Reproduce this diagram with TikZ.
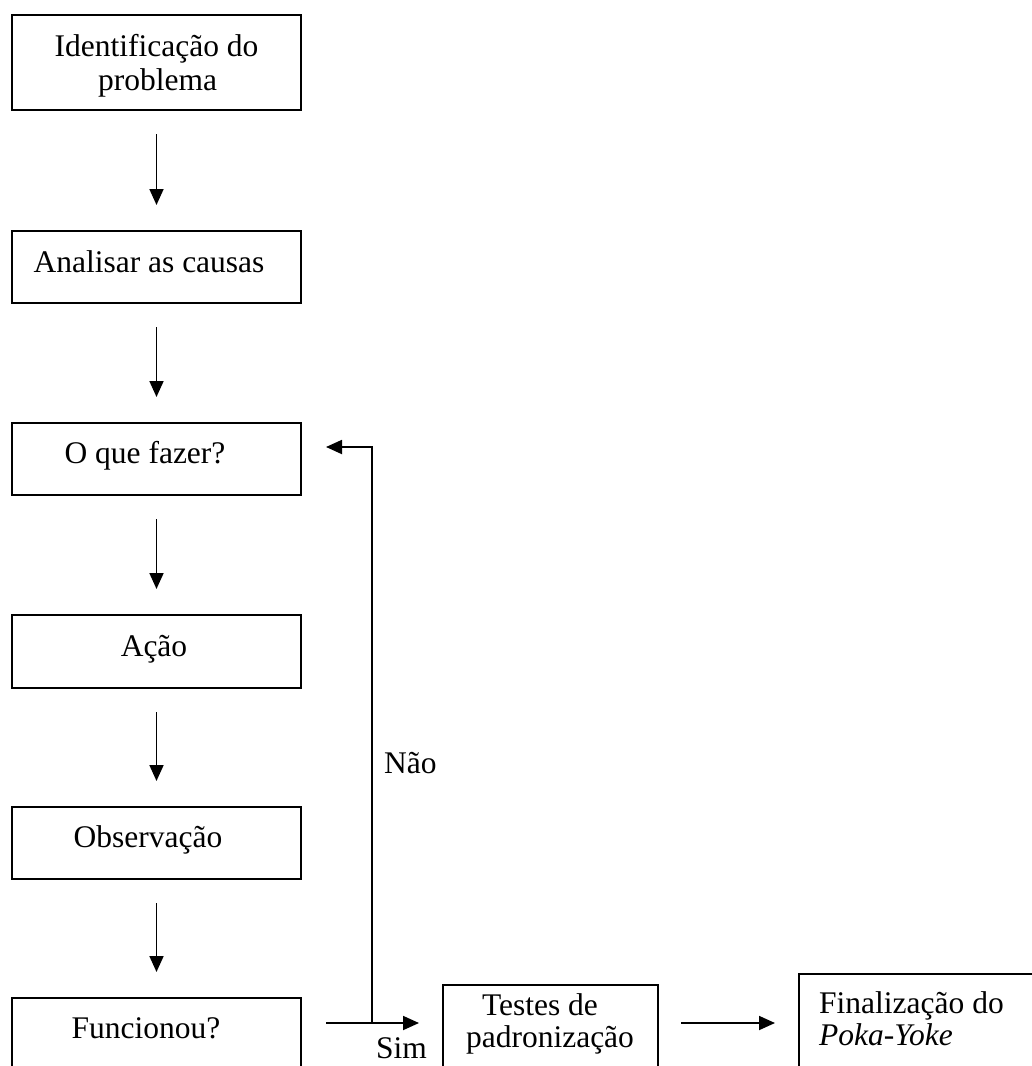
\documentclass[tikz,border=0pt]{standalone}
\usepackage{fontspec}
\setmainfont{Liberation Serif}
\usetikzlibrary{arrows.meta}
\begin{document}
\begin{tikzpicture}[x=1pt,y=-1pt,
  font=\fontsize{31.5}{34}\selectfont,
  box/.style={draw, line width=2pt, inner sep=0pt},
  txt/.style={anchor=base, inner sep=0pt},
  txtl/.style={anchor=base west, inner sep=0pt},
  arr/.style={line width=1.8pt, -{Triangle[length=16pt,width=14pt]}},
  vdown/.style={arr, shorten <=23pt, shorten >=25pt}]
\useasboundingbox (0,0) rectangle (1032,1066);
\clip (0,0) rectangle (1032,1066);
\fill[white] (0,0) rectangle (1032,1066);
% boxes
\node[box, minimum width=289pt, minimum height=95pt] (b1) at (156.5,62.5) {};
\node[box, minimum width=289pt, minimum height=72pt] (b2) at (156.5,267) {};
\node[box, minimum width=289pt, minimum height=72pt] (b3) at (156.5,459) {};
\node[box, minimum width=289pt, minimum height=73pt] (b4) at (156.5,651.5) {};
\node[box, minimum width=289pt, minimum height=72pt] (b5) at (156.5,843) {};
\node[box, minimum width=289pt, minimum height=72pt] (b6) at (156.5,1034) {};
\node[box, minimum width=215pt, minimum height=95pt] (b7) at (550.5,1032.5) {};
\node[box, minimum width=246pt, minimum height=106pt] (b8) at (922,1027) {};
% texts
\node[txt] (t1a) at (156.5,56) {Identificação do};
\node[txt] (t1b) at (157.5,90) {problema};
\node[txt] (t2) at (149,272) {Analisar as causas};
\node[txt] (t3) at (145,463) {O que fazer?};
\node[txt] (t4) at (154,656) {Ação};
\node[txt] (t5) at (148,847) {Observação};
\node[txt] (t6) at (146,1038) {Funcionou?};
\node[txt] (t7a) at (540,1015) {Testes de};
\node[txt] (t7b) at (550,1047) {padronização};
\node[txtl] (t8a) at (819,1013) {Finalização do};
\node[txtl] (t8b) at (819,1045) {\textit{Poka-Yoke}};
\node[txtl] (nao) at (384,773) {Não};
\node[txtl] (sim) at (376,1058) {Sim};
% connectors
\draw[vdown] (b1) -- (b2);
\draw[vdown] (b2) -- (b3);
\draw[vdown] (b3) -- (b4);
\draw[vdown] (b4) -- (b5);
\draw[vdown] (b5) -- (b6);
\coordinate (fork) at (372,1023);
\coordinate (ret) at (372,447);
\draw[arr, shorten <=24pt, shorten >=23pt] (b6.east |- fork) -- (b7.west |- fork);
\draw[arr, shorten >=24pt] (fork) -- (ret) -- (b3.east |- ret);
\draw[arr, shorten <=22pt, shorten >=23pt] (b7.east |- fork) -- (b8.west |- fork);
\end{tikzpicture}
\end{document}
